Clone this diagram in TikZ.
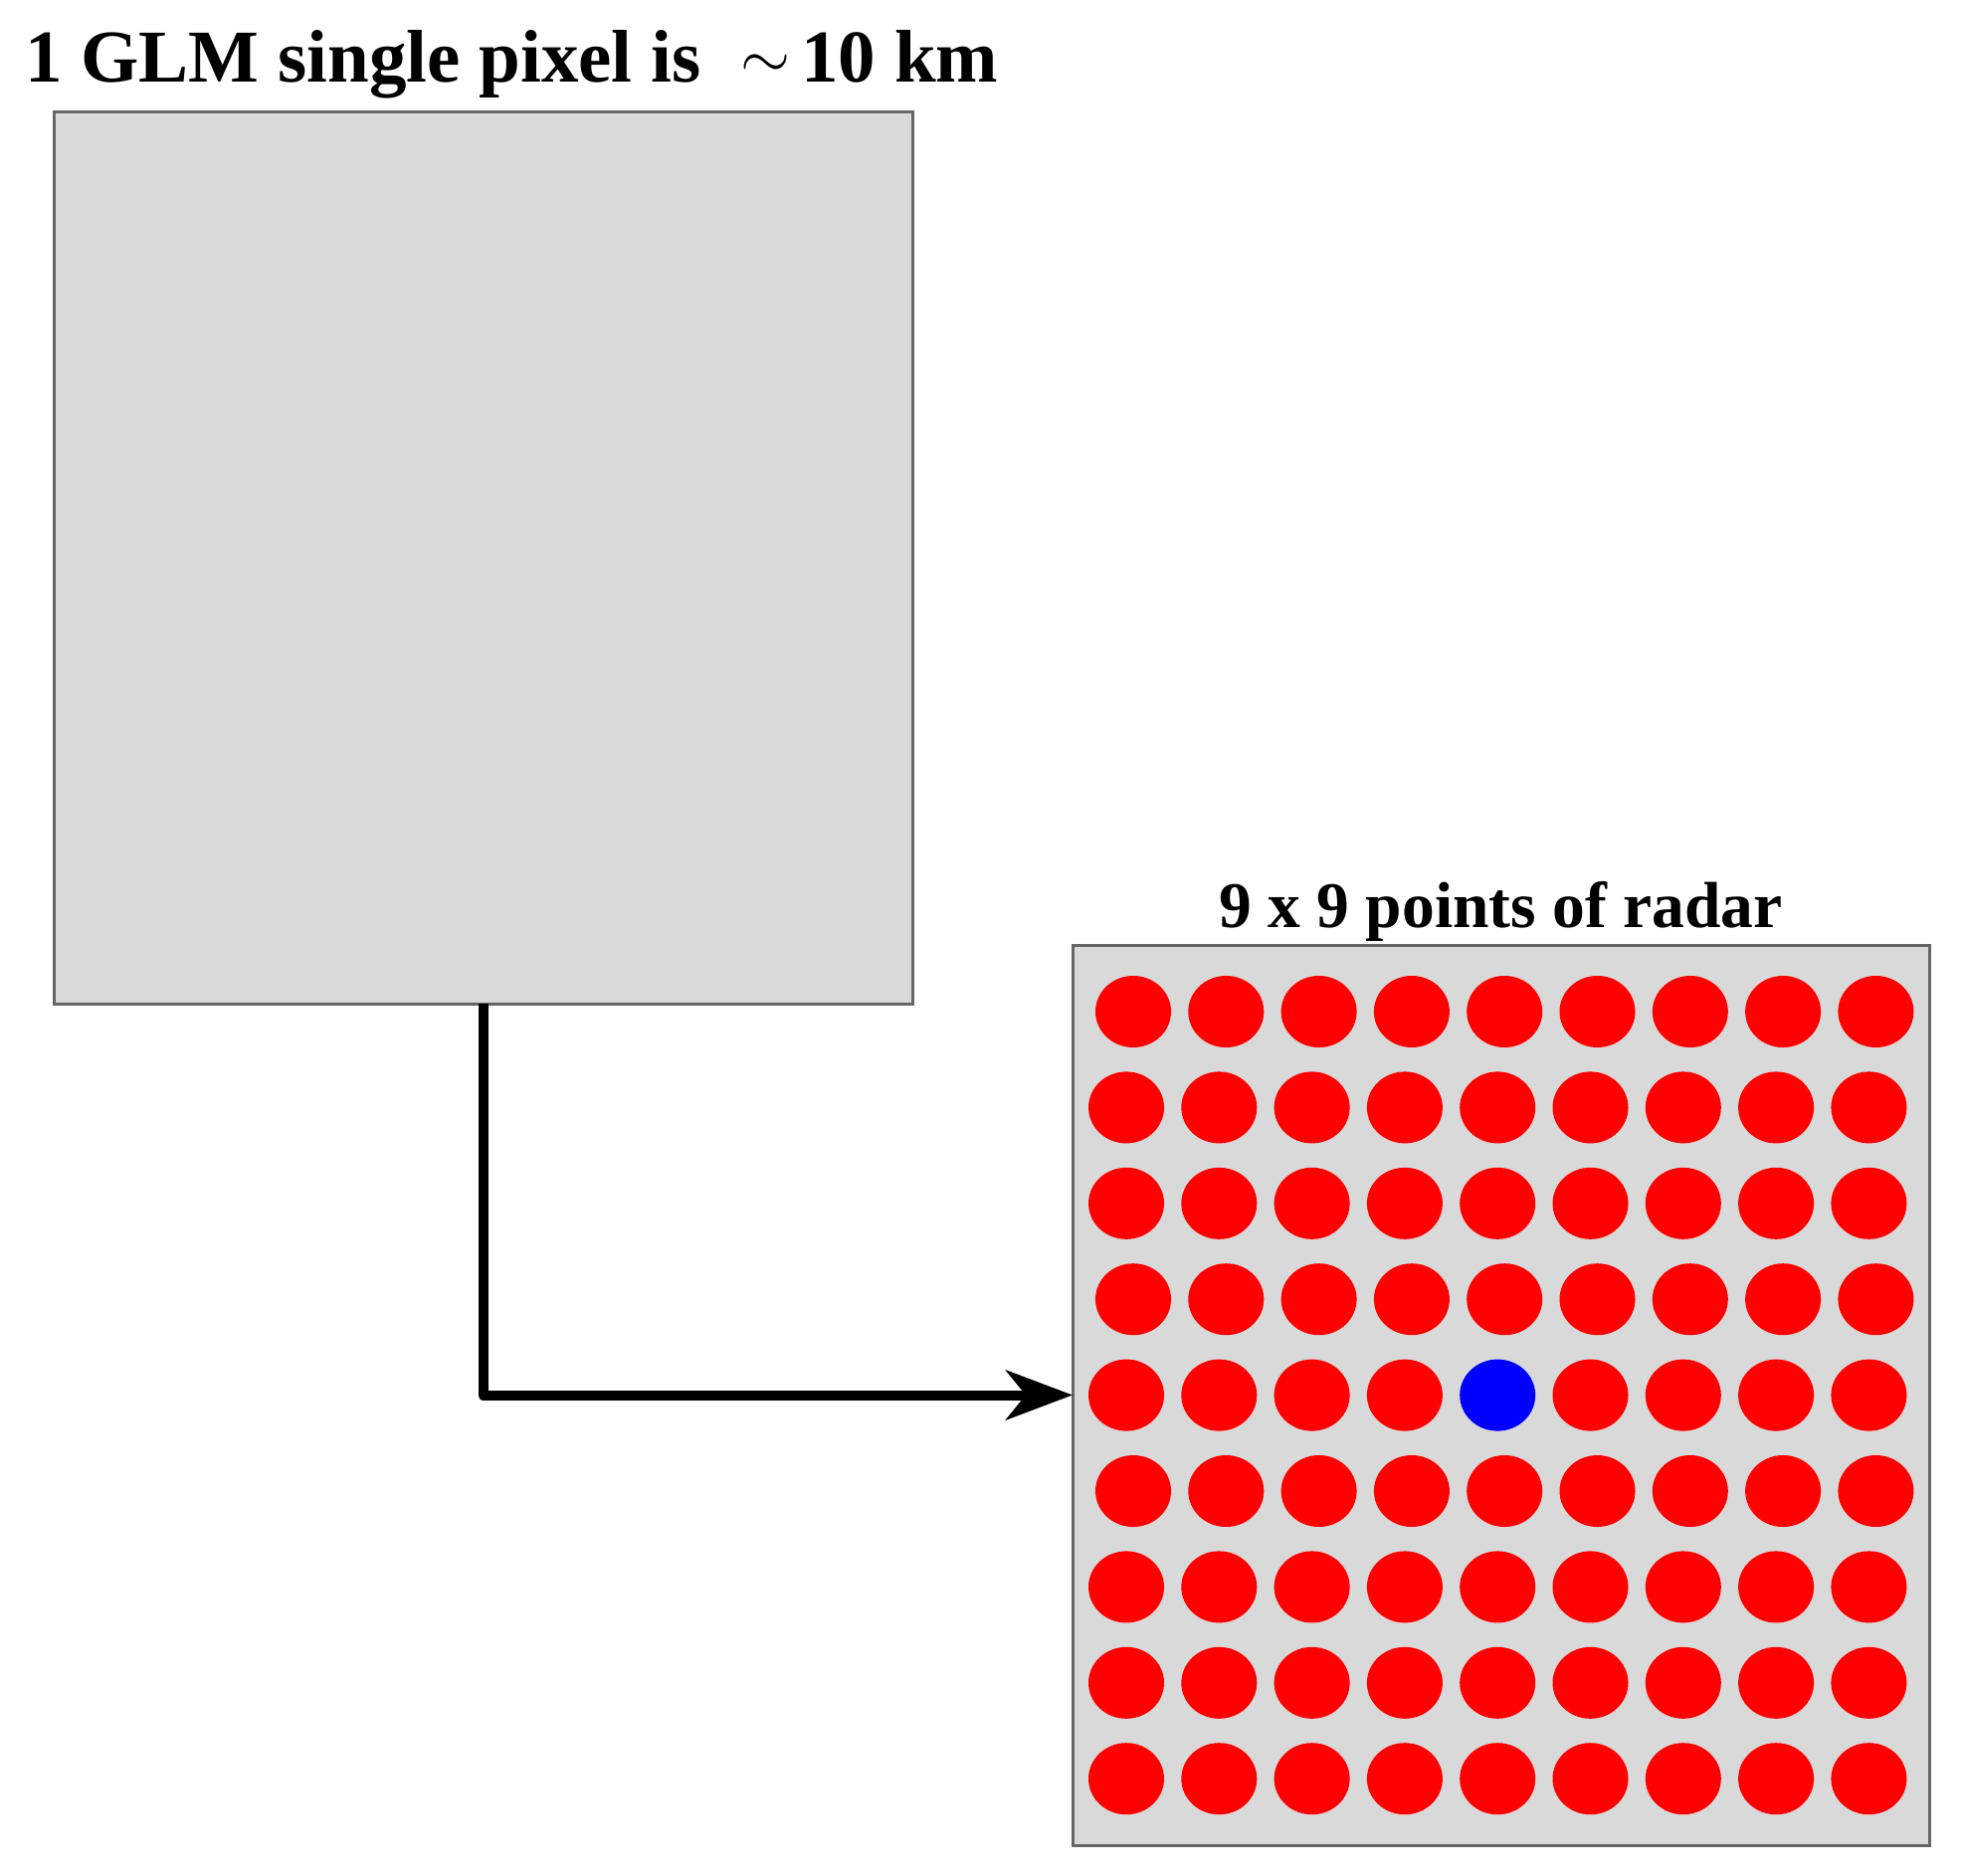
\documentclass[tikz,border=0pt]{standalone}
\usepackage{graphicx}
\usepackage{fontspec}
\setmainfont{Liberation Serif}
\usetikzlibrary{shapes.geometric,arrows.meta}
\definecolor{boxfill}{RGB}{217,217,217}
\definecolor{boxline}{RGB}{102,102,102}
\definecolor{dotred}{RGB}{255,0,0}
\definecolor{dotblue}{RGB}{0,0,255}
\newcommand{\approxsign}{\raisebox{4pt}{\fontsize{20}{20}\selectfont\scalebox{3.1}{$\sim$}}}
\tikzset{
  panel/.style={draw=boxline, fill=boxfill, line width=3pt, inner sep=0pt, outer sep=0pt},
  dot/.style={ellipse, minimum width=76pt, minimum height=72pt, inner sep=0pt, draw=none},
  bigtitle/.style={font=\fontsize{75}{80}\selectfont\bfseries, inner sep=0pt},
  smalltitle/.style={font=\fontsize{65.5}{70}\selectfont\bfseries, inner sep=0pt},
  link/.style={line width=10pt, line join=round, -{Stealth[length=67pt, width=50pt, inset=20pt]}}
}
\begin{document}
\begin{tikzpicture}[x=1pt, y=-1pt]
\useasboundingbox (0,0) rectangle (1973,1886);
\node[bigtitle, anchor=base west] (t1) at (25,83) {1 GLM single pixel is\hspace{40pt}\approxsign\hspace{11pt}10 km};
\node[panel, minimum width=863pt, minimum height=896pt] (glm) at (485.5,561) {};
\node[panel, minimum width=861pt, minimum height=905pt] (radar) at (1508.5,1402.5) {};
\node[smalltitle, anchor=base] (t2) at (1508.5,932) {9 x 9 points of radar};
\foreach \ri/\sh in {1/7,2/0,3/0,4/7,5/0,6/7,7/0,8/0,9/0}{
  \foreach \ci in {1,...,9}{
    \pgfmathtruncatemacro\isblue{and(\ri==5,\ci==5)}
    \ifnum\isblue=1 \def\dotcol{dotblue}\else\def\dotcol{dotred}\fi
    \node[dot, fill=\dotcol] (d-\ri-\ci) at ({1132+\sh+(\ci-1)*93.3},{1017+(\ri-1)*96.4}) {};
  }
}
\draw[link] (glm.south) |- (radar.west);
\end{tikzpicture}
\end{document}
